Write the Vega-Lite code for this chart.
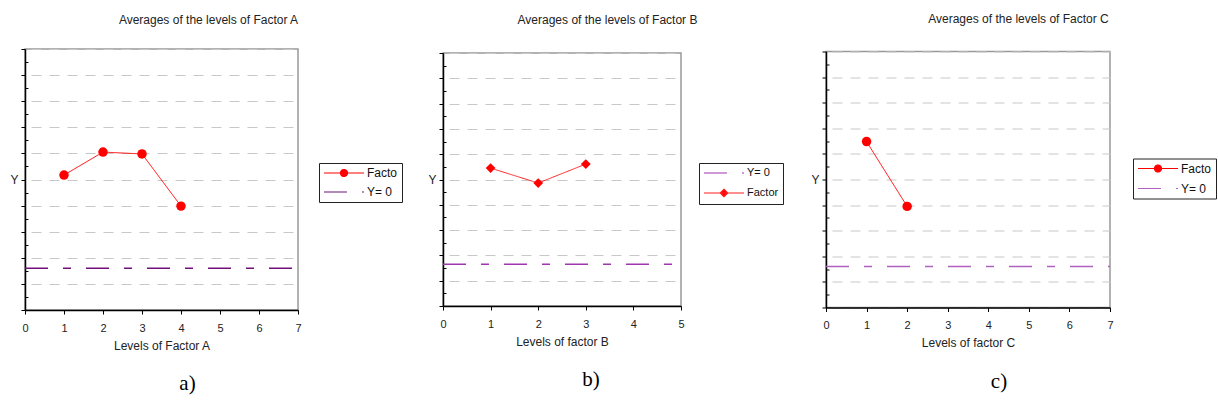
{
  "$schema": "https://vega.github.io/schema/vega-lite/v6.json",
  "background": "white",
  "padding": {"left": 9, "top": 11, "right": 0, "bottom": 0},
  "bounds": "flush",
  "center": true,
  "spacing": 145,
  "config": {
    "font": "Liberation Sans",
    "view": {"stroke": "#999999", "strokeWidth": 1.5},
    "axis": {
      "domainColor": "#000000",
      "domainWidth": 1.5,
      "tickColor": "#000000",
      "tickWidth": 1,
      "labelFont": "Liberation Sans",
      "labelFontSize": 11,
      "labelColor": "#222222",
      "titleFont": "Liberation Sans",
      "titleFontSize": 12,
      "titleFontWeight": "normal",
      "titleColor": "#222222",
      "gridColor": "#c8c8c8",
      "gridDash": [10, 8],
      "gridDashOffset": 12,
      "gridWidth": 1
    },
    "legend": {
      "labelFont": "Liberation Sans",
      "labelColor": "#111111"
    }
  },
  "resolve": {
    "scale": {"color": "independent", "strokeDash": "independent"},
    "legend": {"color": "independent", "strokeDash": "independent"}
  },
  "hconcat": [
    {
      "width": 273,
      "height": 261,
      "title": {"text": "a)", "orient": "bottom", "font": "Liberation Serif", "fontSize": 21, "fontWeight": "normal", "color": "#000000", "offset": 22, "dx": 26},
      "data": {"values": [
        {"series": "Factor A", "x": 1, "y": 3.57},
        {"series": "Factor A", "x": 2, "y": 4.45},
        {"series": "Factor A", "x": 3, "y": 4.38},
        {"series": "Factor A", "x": 4, "y": 2.38},
        {"series": "Y= 0", "x": 0, "y": 0},
        {"series": "Y= 0", "x": 7, "y": 0}
      ]},
      "encoding": {
        "y": {
          "field": "y", "type": "quantitative",
          "scale": {"domain": [-1.6, 8.4], "nice": false, "zero": false},
          "axis": {
            "title": "Y", "titleAngle": 0, "titleAlign": "right", "titleBaseline": "middle", "titleX": -7, "titleFontSize": 12,
            "labels": false,
            "values": [-1.6, -1.1, -0.6, -0.1, 0.4, 0.9, 1.4, 1.9, 2.4, 2.9, 3.4, 3.9, 4.4, 4.9, 5.4, 5.9, 6.4, 6.9, 7.4, 7.9, 8.4],
            "tickSize": {"condition": {"test": "round((datum.value + 1.6) * 2) % 2 === 0", "value": 4}, "value": -3},
            "gridOpacity": {"condition": {"test": "round((datum.value + 1.6) * 2) % 2 === 0", "value": 1}, "value": 0}
          }
        }
      },
      "layer": [
        {
          "mark": {"type": "line"},
          "encoding": {
            "x": {
              "field": "x", "type": "quantitative",
              "scale": {"domain": [0, 7], "nice": false, "zero": false},
              "axis": {"title": "Levels of Factor A", "values": [0, 1, 2, 3, 4, 5, 6, 7], "grid": false, "tickSize": 4, "labelPadding": 8, "titlePadding": 7, "labelFlush": false}
            },
            "color": {
              "field": "series", "type": "nominal",
              "scale": {"domain": ["Factor A", "Y= 0"], "range": ["#ff0000", "#72107a"]},
              "legend": {
                "title": null, "orient": "none", "legendX": 294, "legendY": 114, "direction": "vertical",
                "labelFontSize": 12, "symbolSize": 100, "symbolOffset": 15, "labelOffset": 17,
                "rowPadding": 7, "padding": 4, "strokeColor": "#222222", "fillColor": "#ffffff", "symbolStrokeWidth": 1.2,
                "labelExpr": "datum.label === 'Factor A' ? 'Facto' : datum.label",
                "encode": {
                  "symbols": {
                    "update": {
                      "shape": [{"test": "datum.value === 'Y= 0'", "value": "M-4,0H4"}, {"value": "M-4,0H4M-0.7,0A0.7,0.7,0,1,1,0.7,0A0.7,0.7,0,1,1,-0.7,0Z"}],
                      "fill": [{"test": "datum.value === 'Y= 0'", "value": "transparent"}, {"value": "#ff0000"}],
                      "strokeDash": [{"test": "datum.value === 'Y= 0'", "value": [23, 15, 8, 15]}, {"value": [1, 0]}]
                    }
                  }
                }
              }
            },
            "strokeDash": {
              "field": "series", "type": "nominal",
              "scale": {"domain": ["Factor A", "Y= 0"], "range": [[1, 0], [23, 15, 8, 15]]},
              "legend": null
            },
            "strokeWidth": {"condition": {"test": "datum.series === 'Y= 0'", "value": 1.4}, "value": 1}
          }
        },
        {
          "transform": [{"filter": "datum.series !== 'Y= 0'"}],
          "mark": {"type": "point", "shape": "circle", "filled": true, "size": 90, "color": "#ff0000", "opacity": 1},
          "encoding": {
            "x": {
              "field": "x", "type": "quantitative",
              "scale": {"domain": [0, 7], "nice": false, "zero": false},
              "axis": {"orient": "top", "title": "Averages of the levels of Factor A", "domain": false, "ticks": false, "labels": false, "grid": false, "titleX": 183, "titlePadding": 23}
            }
          }
        }
      ],
      "resolve": {"scale": {"x": "independent"}, "axis": {"x": "independent"}}
    },
    {
      "width": 238,
      "height": 253,
      "title": {"text": "b)", "orient": "bottom", "font": "Liberation Serif", "fontSize": 21, "fontWeight": "normal", "color": "#000000", "offset": 22, "dx": 29},
      "data": {"values": [
        {"series": "Factor B", "x": 1, "y": 3.80},
        {"series": "Factor B", "x": 2, "y": 3.21},
        {"series": "Factor B", "x": 3, "y": 3.96},
        {"series": "Y= 0", "x": 0, "y": 0},
        {"series": "Y= 0", "x": 5, "y": 0}
      ]},
      "encoding": {
        "y": {
          "field": "y", "type": "quantitative",
          "scale": {"domain": [-1.65, 8.35], "nice": false, "zero": false},
          "axis": {
            "title": "Y", "titleAngle": 0, "titleAlign": "right", "titleBaseline": "middle", "titleX": -7, "titleFontSize": 12,
            "labels": false,
            "values": [-1.65, -1.15, -0.65, -0.15, 0.35, 0.85, 1.35, 1.85, 2.35, 2.85, 3.35, 3.85, 4.35, 4.85, 5.35, 5.85, 6.35, 6.85, 7.35, 7.85, 8.35],
            "tickSize": {"condition": {"test": "round((datum.value + 1.65) * 2) % 2 === 0", "value": 4}, "value": -3},
            "gridOpacity": {"condition": {"test": "round((datum.value + 1.65) * 2) % 2 === 0", "value": 1}, "value": 0}
          }
        }
      },
      "layer": [
        {
          "mark": {"type": "line"},
          "encoding": {
            "x": {
              "field": "x", "type": "quantitative",
              "scale": {"domain": [0, 5], "nice": false, "zero": false},
              "axis": {"title": "Levels of factor B", "values": [0, 1, 2, 3, 4, 5], "grid": false, "tickSize": 4, "labelPadding": 8, "titlePadding": 7, "labelFlush": false}
            },
            "color": {
              "field": "series", "type": "nominal",
              "scale": {"domain": ["Y= 0", "Factor B"], "range": ["#a035b0", "#ff2020"]},
              "legend": {
                "title": null, "orient": "none", "legendX": 256, "legendY": 110, "direction": "vertical",
                "labelFontSize": 11, "symbolSize": 100, "symbolOffset": 15, "labelOffset": 17,
                "rowPadding": 8, "padding": 4, "strokeColor": "#222222", "fillColor": "#ffffff", "symbolStrokeWidth": 1.2,
                "labelExpr": "datum.label === 'Factor B' ? 'Factor' : datum.label",
                "encode": {
                  "symbols": {
                    "update": {
                      "shape": [{"test": "datum.value === 'Y= 0'", "value": "M-4,0H4"}, {"value": "M-4,0H4M-0.75,0L0,-0.75L0.75,0L0,0.75Z"}],
                      "fill": [{"test": "datum.value === 'Y= 0'", "value": "transparent"}, {"value": "#ff0000"}],
                      "strokeDash": [{"test": "datum.value === 'Y= 0'", "value": [23, 15, 8, 15]}, {"value": [1, 0]}]
                    }
                  }
                }
              }
            },
            "strokeDash": {
              "field": "series", "type": "nominal",
              "scale": {"domain": ["Y= 0", "Factor B"], "range": [[23, 15, 8, 15], [1, 0]]},
              "legend": null
            },
            "strokeWidth": {"condition": {"test": "datum.series === 'Y= 0'", "value": 1.4}, "value": 1}
          }
        },
        {
          "transform": [{"filter": "datum.series !== 'Y= 0'"}],
          "mark": {"type": "point", "shape": "diamond", "filled": true, "size": 95, "color": "#ff0000", "opacity": 1},
          "encoding": {
            "x": {
              "field": "x", "type": "quantitative",
              "scale": {"domain": [0, 5], "nice": false, "zero": false},
              "axis": {"orient": "top", "title": "Averages of the levels of Factor B", "domain": false, "ticks": false, "labels": false, "grid": false, "titleX": 164, "titlePadding": 27}
            }
          }
        }
      ],
      "resolve": {"scale": {"x": "independent"}, "axis": {"x": "independent"}}
    },
    {
      "width": 284,
      "height": 256,
      "title": {"text": "c)", "orient": "bottom", "font": "Liberation Serif", "fontSize": 21, "fontWeight": "normal", "color": "#000000", "offset": 22, "dx": 31},
      "data": {"values": [
        {"series": "Factor C", "x": 1, "y": 4.88},
        {"series": "Factor C", "x": 2, "y": 2.35},
        {"series": "Y= 0", "x": 0, "y": 0},
        {"series": "Y= 0", "x": 7, "y": 0}
      ]},
      "encoding": {
        "y": {
          "field": "y", "type": "quantitative",
          "scale": {"domain": [-1.6, 8.4], "nice": false, "zero": false},
          "axis": {
            "title": "Y", "titleAngle": 0, "titleAlign": "right", "titleBaseline": "middle", "titleX": -7, "titleFontSize": 12,
            "labels": false,
            "values": [-1.6, -1.1, -0.6, -0.1, 0.4, 0.9, 1.4, 1.9, 2.4, 2.9, 3.4, 3.9, 4.4, 4.9, 5.4, 5.9, 6.4, 6.9, 7.4, 7.9, 8.4],
            "tickSize": {"condition": {"test": "round((datum.value + 1.6) * 2) % 2 === 0", "value": 4}, "value": -3},
            "gridOpacity": {"condition": {"test": "round((datum.value + 1.6) * 2) % 2 === 0", "value": 1}, "value": 0}
          }
        }
      },
      "layer": [
        {
          "mark": {"type": "line"},
          "encoding": {
            "x": {
              "field": "x", "type": "quantitative",
              "scale": {"domain": [0, 7], "nice": false, "zero": false},
              "axis": {"title": "Levels of factor C", "values": [0, 1, 2, 3, 4, 5, 6, 7], "grid": false, "tickSize": 4, "labelPadding": 8, "titlePadding": 7, "labelFlush": false}
            },
            "color": {
              "field": "series", "type": "nominal",
              "scale": {"domain": ["Factor C", "Y= 0"], "range": ["#ff0000", "#b060c0"]},
              "legend": {
                "title": null, "orient": "none", "legendX": 307, "legendY": 107, "direction": "vertical",
                "labelFontSize": 12, "symbolSize": 100, "symbolOffset": 15, "labelOffset": 17,
                "rowPadding": 8, "padding": 4, "strokeColor": "#222222", "fillColor": "#ffffff", "symbolStrokeWidth": 1.2,
                "labelExpr": "datum.label === 'Factor C' ? 'Facto' : datum.label",
                "encode": {
                  "symbols": {
                    "update": {
                      "shape": [{"test": "datum.value === 'Y= 0'", "value": "M-4,0H4"}, {"value": "M-4,0H4M-0.7,0A0.7,0.7,0,1,1,0.7,0A0.7,0.7,0,1,1,-0.7,0Z"}],
                      "fill": [{"test": "datum.value === 'Y= 0'", "value": "transparent"}, {"value": "#ff0000"}],
                      "strokeDash": [{"test": "datum.value === 'Y= 0'", "value": [23, 15, 8, 15]}, {"value": [1, 0]}]
                    }
                  }
                }
              }
            },
            "strokeDash": {
              "field": "series", "type": "nominal",
              "scale": {"domain": ["Factor C", "Y= 0"], "range": [[1, 0], [23, 15, 8, 15]]},
              "legend": null
            },
            "strokeWidth": {"condition": {"test": "datum.series === 'Y= 0'", "value": 1.4}, "value": 1}
          }
        },
        {
          "transform": [{"filter": "datum.series !== 'Y= 0'"}],
          "mark": {"type": "point", "shape": "circle", "filled": true, "size": 90, "color": "#ff0000", "opacity": 1},
          "encoding": {
            "x": {
              "field": "x", "type": "quantitative",
              "scale": {"domain": [0, 7], "nice": false, "zero": false},
              "axis": {"orient": "top", "title": "Averages of the levels of Factor C", "domain": false, "ticks": false, "labels": false, "grid": false, "titleX": 192, "titlePadding": 26}
            }
          }
        }
      ],
      "resolve": {"scale": {"x": "independent"}, "axis": {"x": "independent"}}
    }
  ]
}
